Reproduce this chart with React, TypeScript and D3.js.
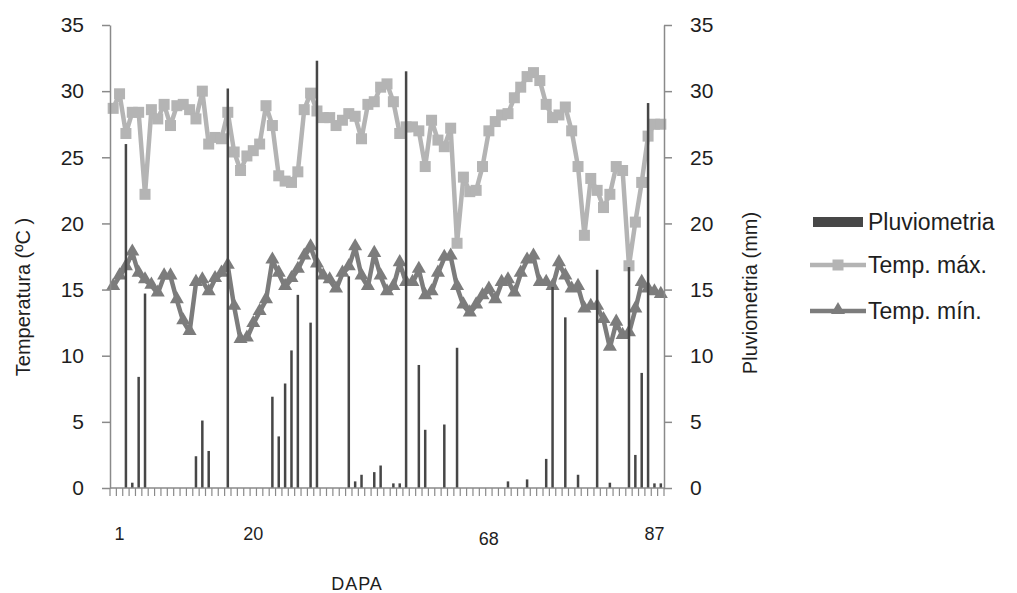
import React, { useEffect, useRef } from 'react'
import * as d3 from 'd3'

// DAPA 1..87
const days = d3.range(1, 88)

const rain = [
  0, 0, 26.0, 0.4, 8.4, 14.7, 0, 0, 0, 0,
  0, 0, 0, 2.4, 5.1, 2.8, 0, 0, 30.2, 0,
  0, 0, 0, 0, 0, 6.9, 3.9, 7.9, 10.4, 14.6,
  0, 12.5, 32.3, 0, 0, 0, 0, 16.0, 0.5, 1.0,
  0, 1.2, 1.7, 0, 0.35, 0.35, 31.5, 0, 9.3, 4.4,
  0, 0, 4.8, 0, 10.6, 0, 0, 0, 0, 0,
  0, 0, 0.5, 0, 0, 0.65, 0, 0, 2.2, 15.2,
  0, 12.9, 0, 1.0, 0, 0, 16.5, 0, 0.4, 0,
  0, 16.7, 2.5, 8.7, 29.1, 0.35, 0.35
]

const tempMax = [
  28.7, 29.8, 26.8, 28.4, 28.4, 22.2, 28.6, 27.9, 29.0, 27.4,
  28.9, 29.0, 28.6, 27.9, 30.0, 26.0, 26.5, 26.4, 28.4, 25.4,
  24.0, 25.1, 25.5, 26.0, 28.9, 27.4, 23.6, 23.2, 23.1, 23.9,
  28.6, 29.85, 28.5, 28.0, 28.0, 27.4, 27.8, 28.3, 28.1, 26.4,
  29.0, 29.2, 30.3, 30.55, 29.2, 26.8, 27.3, 27.3, 27.0, 24.3,
  27.8, 26.3, 25.8, 27.2, 18.5, 23.5, 22.4, 22.5, 24.3, 27.0,
  27.7, 28.2, 28.3, 29.5, 30.3, 31.1, 31.4, 30.8, 29.0, 28.0,
  28.2, 28.8, 27.0, 24.3, 19.1, 23.4, 22.5, 21.2, 22.2, 24.3,
  24.0, 16.8, 20.1, 23.1, 26.6, 27.5, 27.5
]

const tempMin = [
  15.2, 16.0, 16.7, 17.8, 16.2, 15.7, 15.3, 14.7, 16.0, 16.0,
  14.2, 12.6, 11.8, 15.5, 15.7, 14.8, 15.8, 16.2, 16.8, 13.7,
  11.2, 11.3, 12.4, 13.3, 14.2, 17.2, 16.2, 15.2, 15.8, 16.5,
  17.5, 18.2, 16.9, 16.0, 15.7, 15.0, 16.2, 16.7, 18.2, 16.0,
  15.2, 17.7, 16.0, 14.8, 15.2, 17.0, 15.5, 15.5, 16.5, 14.5,
  14.8, 16.2, 17.4, 17.5, 15.2, 13.8, 13.2, 13.8, 14.5, 15.0,
  14.2, 15.5, 15.7, 14.7, 16.2, 17.2, 17.5, 15.5, 15.5, 15.2,
  17.0, 16.0, 15.0, 15.2, 13.5, 13.7, 13.7, 12.7, 10.6, 12.5,
  11.5, 11.7, 13.5, 15.5, 15.0, 14.8, 14.6
]

const yTicks = [0, 5, 10, 15, 20, 25, 30, 35]

// text boxes under the axis, anchored on the day they sit over
const dayLabels = [
  { day: 2, text: '1' },
  { day: 23, text: '20' },
  { day: 60, text: '68' },
  { day: 86, text: '87' }
]

const seriesNames = ['Pluviometria', 'Temp. máx.', 'Temp. mín.']

const FONT = '"Liberation Sans", Arial, sans-serif'
const RAIN_COLOR = '#474747'
const MAX_COLOR = '#b4b4b4'
const MIN_COLOR = '#7c7c7c'
const AXIS_COLOR = '#8a8a8a'
const SQ = 11

function ClimateChart() {
  const ref = useRef(null)

  useEffect(() => {
    const svg = d3.select(ref.current)
    svg.selectAll('*').remove()

    const plot = { left: 110, right: 664, top: 25, bottom: 488 }

    const x = d3.scaleBand()
      .domain(days)
      .range([plot.left, plot.right])
      .padding(0)
    const y = d3.scaleLinear()
      .domain([0, 35])
      .range([plot.bottom, plot.top])
    const yRain = d3.scaleLinear()
      .domain([0, 35])
      .range([plot.bottom, plot.top])

    const cx = (d) => x(d) + x.bandwidth() / 2

    // temperature lines
    const line = d3.line()
      .x((v, i) => cx(days[i]))
      .y(v => y(v))

    svg.append('path')
      .datum(tempMax)
      .attr('fill', 'none')
      .attr('stroke', MAX_COLOR)
      .attr('stroke-width', 4.5)
      .attr('stroke-linejoin', 'round')
      .attr('d', line)

    svg.append('g').selectAll('rect')
      .data(tempMax).enter()
      .append('rect')
        .attr('x', (v, i) => cx(days[i]) - SQ / 2)
        .attr('y', v => y(v) - SQ / 2)
        .attr('width', SQ)
        .attr('height', SQ)
        .attr('fill', MAX_COLOR)

    svg.append('path')
      .datum(tempMin)
      .attr('fill', 'none')
      .attr('stroke', MIN_COLOR)
      .attr('stroke-width', 4.5)
      .attr('stroke-linejoin', 'round')
      .attr('d', line)

    const tri = d3.symbol(d3.symbolTriangle, 85)
    svg.append('g').selectAll('path')
      .data(tempMin).enter()
      .append('path')
        .attr('d', tri)
        .attr('transform', (v, i) => `translate(${cx(days[i])}, ${y(v) - 1})`)
        .attr('fill', MIN_COLOR)

    // rainfall bars (secondary axis, drawn over the lines)
    svg.append('g').selectAll('rect')
      .data(rain).enter()
      .append('rect')
        .attr('x', (v, i) => cx(days[i]) - 1.25)
        .attr('y', v => yRain(v))
        .attr('width', 2.5)
        .attr('height', v => plot.bottom - yRain(v))
        .attr('fill', RAIN_COLOR)

    // axes
    const styleAxis = (g) => {
      g.select('.domain').attr('stroke', AXIS_COLOR).attr('stroke-width', 1.5)
      g.selectAll('.tick line').attr('stroke', AXIS_COLOR).attr('stroke-width', 1.5)
      g.selectAll('.tick text')
        .attr('fill', '#1e1e1e')
        .style('font-family', FONT)
        .style('font-size', '21px')
    }

    svg.append('g')
      .attr('transform', `translate(${plot.left}, 0)`)
      .call(d3.axisLeft(y).tickValues(yTicks).tickSize(8).tickSizeOuter(0).tickPadding(18))
      .call(styleAxis)

    svg.append('g')
      .attr('transform', `translate(${plot.right}, 0)`)
      .call(d3.axisRight(yRain).tickValues(yTicks).tickSize(8).tickSizeOuter(0).tickPadding(18))
      .call(styleAxis)

    const xAxis = svg.append('g')
    xAxis.append('line')
      .attr('x1', plot.left).attr('x2', plot.right)
      .attr('y1', plot.bottom).attr('y2', plot.bottom)
      .attr('stroke', AXIS_COLOR)
      .attr('stroke-width', 1.5)
    xAxis.selectAll('line.tick')
      .data(d3.range(days.length + 1)).enter()
      .append('line')
        .attr('class', 'tick')
        .attr('x1', k => plot.left + k * x.step())
        .attr('x2', k => plot.left + k * x.step())
        .attr('y1', plot.bottom)
        .attr('y2', plot.bottom + 8)
        .attr('stroke', AXIS_COLOR)
        .attr('stroke-width', 1.2)

    svg.append('g').selectAll('text')
      .data(dayLabels).enter()
      .append('text')
        .attr('x', d => cx(d.day))
        .attr('y', d => (d.text === '68' ? 545 : 540))
        .attr('text-anchor', 'middle')
        .attr('fill', '#1e1e1e')
        .style('font-family', FONT)
        .style('font-size', '18px')
        .text(d => d.text)

    // titles
    svg.append('text')
      .attr('x', 357).attr('y', 590)
      .attr('text-anchor', 'middle')
      .attr('fill', '#1e1e1e')
      .style('font-family', FONT)
      .style('font-size', '18px')
      .style('letter-spacing', '1px')
      .text('DAPA')

    svg.append('text')
      .attr('transform', 'translate(30, 297) rotate(-90)')
      .attr('text-anchor', 'middle')
      .attr('fill', '#1e1e1e')
      .style('font-family', FONT)
      .style('font-size', '20px')
      .text('Temperatura (ºC )')

    svg.append('text')
      .attr('transform', 'translate(757, 293) rotate(-90)')
      .attr('text-anchor', 'middle')
      .attr('fill', '#1e1e1e')
      .style('font-family', FONT)
      .style('font-size', '20px')
      .text('Pluviometria (mm)')

    // legend
    const legend = svg.append('g').attr('transform', 'translate(810, 0)')
    const rows = [222, 265, 311]

    legend.append('rect')
      .attr('x', 3).attr('y', rows[0] - 5)
      .attr('width', 50).attr('height', 10)
      .attr('fill', RAIN_COLOR)

    legend.append('line')
      .attr('x1', 0).attr('x2', 56)
      .attr('y1', rows[1]).attr('y2', rows[1])
      .attr('stroke', MAX_COLOR).attr('stroke-width', 4.5)
    legend.append('rect')
      .attr('x', 28 - SQ / 2).attr('y', rows[1] - SQ / 2)
      .attr('width', SQ).attr('height', SQ)
      .attr('fill', MAX_COLOR)

    legend.append('line')
      .attr('x1', 0).attr('x2', 56)
      .attr('y1', rows[2]).attr('y2', rows[2])
      .attr('stroke', MIN_COLOR).attr('stroke-width', 4.5)
    legend.append('path')
      .attr('d', tri)
      .attr('transform', `translate(28, ${rows[2] - 1})`)
      .attr('fill', MIN_COLOR)

    legend.selectAll('text.name')
      .data(seriesNames).enter()
      .append('text')
        .attr('class', 'name')
        .attr('x', 58)
        .attr('y', (d, i) => rows[i] + 8)
        .attr('fill', '#1e1e1e')
        .style('font-family', FONT)
        .style('font-size', '23px')
        .text(d => d)
  }, [])

  return (
    <svg
      ref={ref}
      width={1017}
      height={593}
      style={{ position: 'absolute', left: 0, top: 0, background: '#ffffff' }}
    />
  )
}

export default function App() {
  return <ClimateChart />
}
